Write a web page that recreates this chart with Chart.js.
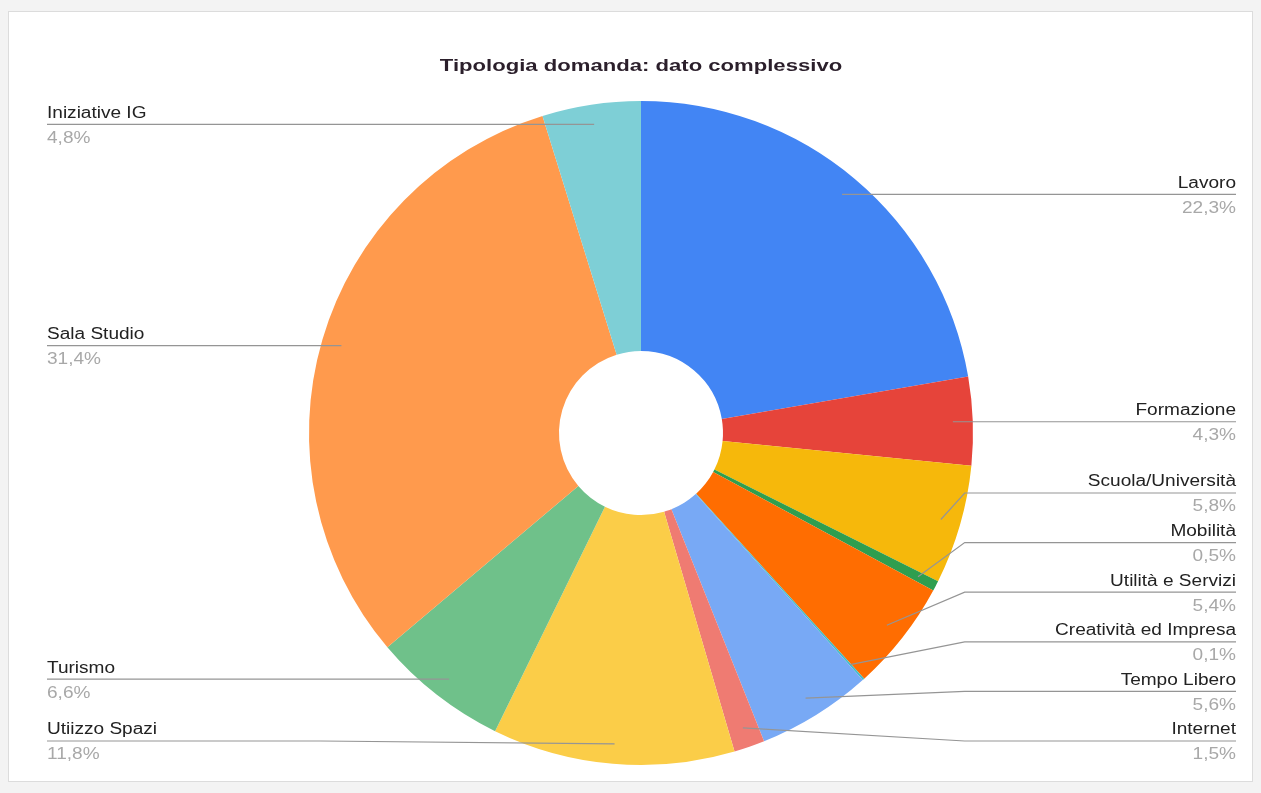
<!DOCTYPE html>
<html>
<head>
<meta charset="utf-8">
<script src="https://cdn.jsdelivr.net/npm/chart.js@4.4.0/dist/chart.umd.min.js"></script>
<style>
html, body { margin: 0; padding: 0; width: 1261px; height: 793px; overflow: hidden; background: #f3f3f3; }
#card { position: absolute; left: 8px; top: 11px; width: 1245px; height: 771px; background: #fff; border: 1px solid #dcdcdc; box-sizing: border-box; }
#chart { position: absolute; left: 0; top: 0; }
</style>
</head>
<body>
<div id="card"></div>
<canvas id="chart" width="1261" height="793"></canvas>
<script>
const chartTitle = "Tipologia domanda: dato complessivo";

const categories = ["Lavoro", "Formazione", "Scuola/Università", "Mobilità", "Utilità e Servizi",
    "Creatività ed Impresa", "Tempo Libero", "Internet", "Utiizzo Spazi", "Turismo",
    "Sala Studio", "Iniziative IG"];

// share of requests, in percent
const shares = [22.3, 4.3, 5.8, 0.5, 5.4, 0.1, 5.6, 1.5, 11.8, 6.6, 31.4, 4.8];

const sliceColors = ["#4285f4", "#e6443a", "#f6b80b", "#2f9e4f", "#ff6d01", "#46bdc6",
    "#78a9f5", "#ef7b72", "#fbcd48", "#6fc18a", "#ff9a4d", "#7ecfd6"];

const nameFont = '16px "Liberation Sans", Arial, sans-serif';
const titleFont = 'bold 17px "Liberation Sans", Arial, sans-serif';

function stretchText(ctx, text, x, y, align, sx) {
    ctx.save();
    ctx.translate(x, y);
    ctx.scale(sx, 1);
    ctx.textAlign = align;
    ctx.textBaseline = 'middle';
    ctx.fillText(text, 0, 0);
    ctx.restore();
}

function formatShare(v) {
    return v.toFixed(1).replace('.', ',') + '%';
}

// spread labels on one side so they don't overlap
function spreadLabels(items, gap, maxY) {
    items.sort((a, b) => a.ay - b.ay);
    const last = items.length - 1;
    // bottom label snaps to the lowest row when it is close to it
    if (last >= 0 && maxY - items[last].ay < 16) items[last].ay = Math.max(items[last].ay, maxY);
    for (let i = last; i >= 0; i--) {
        const limit = i === last ? maxY : items[i + 1].ly - gap;
        items[i].ly = Math.min(items[i].ay, limit);
    }
    for (let i = 1; i < items.length; i++) {
        items[i].ly = Math.max(items[i].ly, items[i - 1].ly + gap);
    }
}

const leaderLabels = {
    id: 'leaderLabels',
    afterDatasetsDraw(chart) {
        const ctx = chart.ctx;
        const area = chart.chartArea;
        const meta = chart.getDatasetMeta(0);
        const right = [], left = [];
        let cx = 0, radius = 0;

        meta.data.forEach((arc, i) => {
            const p = arc.getProps(['x', 'y', 'startAngle', 'endAngle', 'outerRadius'], true);
            const mid = (p.startAngle + p.endAngle) / 2;
            const r = p.outerRadius * 0.94;
            const item = { i, ax: p.x + Math.cos(mid) * r, ay: p.y + Math.sin(mid) * r };
            item.y0 = item.ay;
            cx = p.x;
            radius = p.outerRadius;
            (item.ax >= p.x ? right : left).push(item);
        });

        const maxY = area.bottom - 24;
        spreadLabels(right, 49.6, maxY);
        spreadLabels(left, 49.6, maxY);

        const rightX = chart.width - 25;
        const leftX = 47;

        ctx.save();
        ctx.strokeStyle = '#959595';
        ctx.lineWidth = 1.2;

        right.forEach(it => {
            ctx.beginPath();
            ctx.moveTo(it.ax, it.y0);
            if (Math.abs(it.y0 - it.ly) > 1.5) {
                ctx.lineTo(Math.max(it.ax + 20, cx + radius * 0.975), it.ly);
            }
            ctx.lineTo(rightX, it.ly);
            ctx.stroke();
        });
        left.forEach(it => {
            ctx.beginPath();
            ctx.moveTo(it.ax, it.y0);
            if (Math.abs(it.y0 - it.ly) > 1.5) {
                ctx.lineTo(Math.min(it.ax - 20, cx - radius * 0.965), it.ly);
            }
            ctx.lineTo(leftX, it.ly);
            ctx.stroke();
        });

        const drawText = (it, x, align) => {
            ctx.font = nameFont;
            ctx.fillStyle = '#222222';
            stretchText(ctx, categories[it.i], x, it.ly - 11, align, 1.19);
            ctx.fillStyle = '#a8a8a8';
            stretchText(ctx, formatShare(shares[it.i]), x, it.ly + 14, align, 1.19);
        };
        right.forEach(it => drawText(it, rightX, 'right'));
        left.forEach(it => drawText(it, leftX, 'left'));

        ctx.font = titleFont;
        ctx.fillStyle = '#2b1f2b';
        stretchText(ctx, chartTitle, cx, area.top - 35, 'center', 1.3);
        ctx.restore();
    }
};

new Chart(document.getElementById('chart'), {
    type: 'doughnut',
    data: {
        labels: categories,
        datasets: [{
            data: shares,
            backgroundColor: sliceColors,
            borderWidth: 0,
            hoverOffset: 0,
            offset: 0
        }]
    },
    options: {
        responsive: false,
        animation: false,
        cutout: '24.7%',
        layout: { padding: { top: 101, bottom: 28, left: 100, right: 79 } },
        plugins: {
            legend: { display: false },
            tooltip: { enabled: false },
            title: { display: false }
        }
    },
    plugins: [leaderLabels]
});
</script>
</body>
</html>
